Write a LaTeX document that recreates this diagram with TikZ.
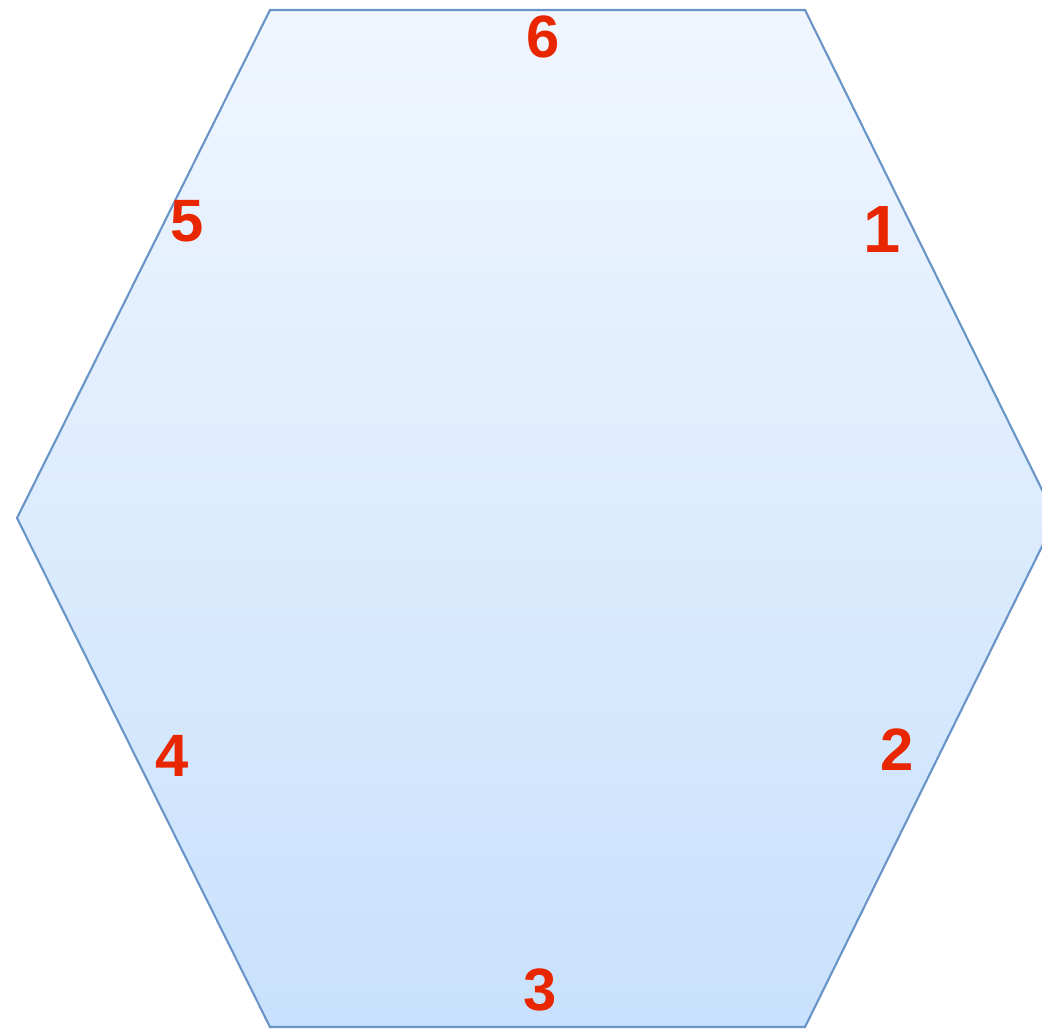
\documentclass[tikz,border=0pt]{standalone}
\usepackage{fontspec}
\setmainfont{Liberation Sans}
\definecolor{hexTop}{RGB}{240, 246, 255}
\definecolor{hexBottom}{RGB}{200, 225, 252}
\definecolor{hexLine}{RGB}{105, 148, 200}
\definecolor{labelRed}{RGB}{232, 38, 0}

\begin{document}
\begin{tikzpicture}[x=0.01cm, y=-0.01cm,
	eckzahl/.style={text=labelRed, font=\fontsize{17}{17}\selectfont\bfseries, inner sep=0pt}]
		
		\useasboundingbox (0, 0) rectangle (1042, 1029);
		
		% Sechseck
		\shade[top color=hexTop, bottom color=hexBottom, draw=hexLine, line width=0.6pt, line join=miter]
		(270, 10) -- (805, 10) -- (1056, 518) -- (805, 1027) -- (270, 1027) -- (17, 518) -- cycle;
		
		% Nummern an den Seiten
		\node[eckzahl] (n6) at (543, 37) {6};
		\node[eckzahl, font=\fontsize{19}{19}\selectfont\bfseries] (n1) at (882, 229) {1};
		\node[eckzahl] (n2) at (897, 750) {2};
		\node[eckzahl] (n3) at (540, 990) {3};
		\node[eckzahl] (n4) at (172, 756) {4};
		\node[eckzahl] (n5) at (187, 221) {5};
		
	\end{tikzpicture}
\end{document}
